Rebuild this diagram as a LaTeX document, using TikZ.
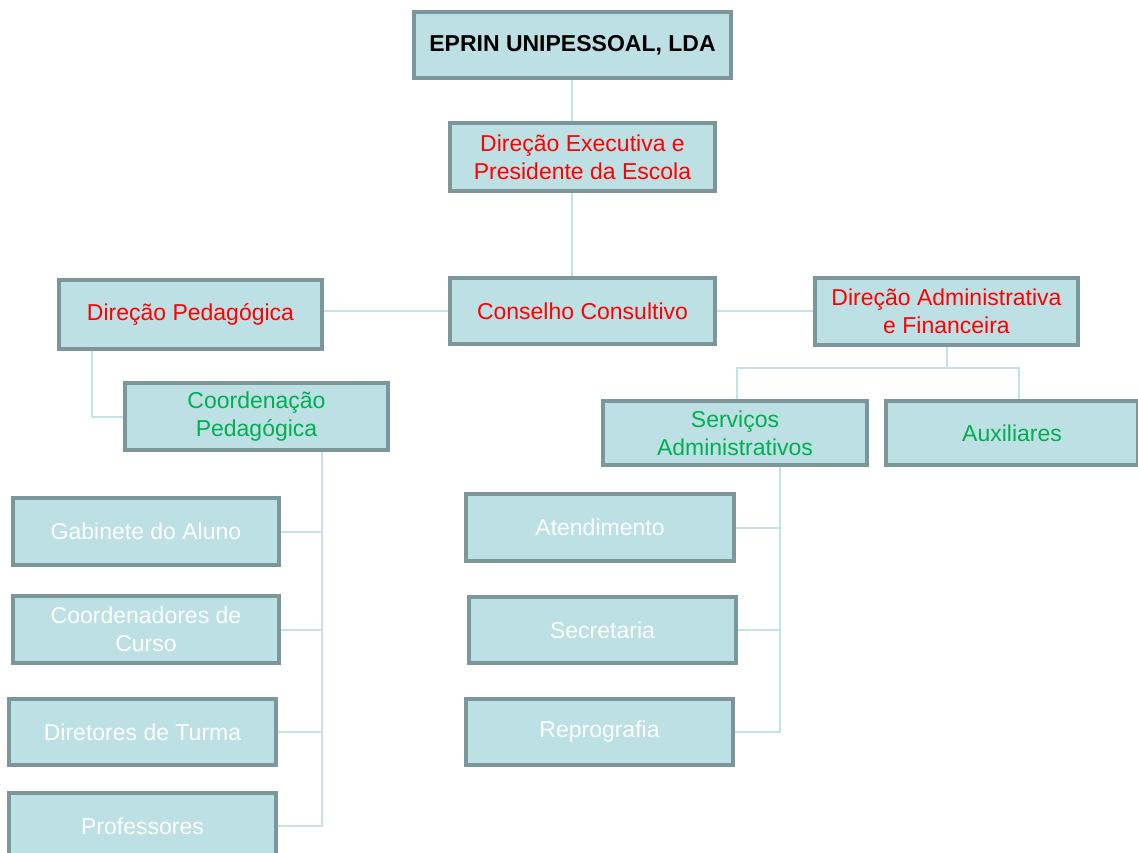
\documentclass[tikz,border=0pt]{standalone}
\usepackage{fontspec}
\setmainfont{Liberation Sans}
\definecolor{boxfill}{HTML}{BCE0E3}
\definecolor{boxline}{HTML}{7C9799}
\definecolor{conn}{HTML}{C3E3E7}
\definecolor{redtxt}{HTML}{FF0000}
\definecolor{greentxt}{HTML}{00B050}
\tikzset{
  orgbox/.style={draw=boxline, line width=3.2pt, fill=boxfill, rectangle, inner sep=0pt,
    align=center, font=\fontsize{23}{28}\selectfont},
  redbox/.style={orgbox, text=redtxt},
  greenbox/.style={orgbox, text=greentxt},
  whitebox/.style={orgbox, text=white},
  link/.style={draw=conn, line width=2pt}
}
\begin{document}
\begin{tikzpicture}[x=1pt,y=-1pt]
\useasboundingbox (0,0) rectangle (1138,852);
\clip (0,0) rectangle (1138,852);
\fill[white] (0,0) rectangle (1138,852);
% nodes
\node[orgbox, text=black, font=\fontsize{23}{28}\selectfont\bfseries, minimum width=317pt, minimum height=66pt] (top) at (572.5,45) {EPRIN UNIPESSOAL, LDA};
\node[redbox, minimum width=265pt, minimum height=68pt] (dexe) at (582.5,157) {Direção Executiva e\\Presidente da Escola};
\node[redbox, minimum width=265pt, minimum height=66pt] (cons) at (582.5,311) {Conselho Consultivo};
\node[redbox, minimum width=263pt, minimum height=69pt] (dped) at (190.5,314.5) {Direção Pedagógica};
\node[redbox, minimum width=263pt, minimum height=67pt] (dadm) at (946.5,311.5) {Direção Administrativa\\e Financeira};
\node[greenbox, minimum width=263pt, minimum height=67pt] (cped) at (256.5,416.5) {Coordenação\\Pedagógica};
\node[greenbox, minimum width=264pt, minimum height=64pt] (serv) at (735,433) {Serviços\\Administrativos};
\node[greenbox, minimum width=252pt, minimum height=64pt] (aux) at (1012,433) {Auxiliares};
\node[whitebox, minimum width=266pt, minimum height=67pt] (gab) at (146,531.5) {Gabinete do Aluno};
\node[whitebox, minimum width=266pt, minimum height=67pt] (coo) at (146,629.5) {Coordenadores de\\Curso};
\node[whitebox, minimum width=267pt, minimum height=66pt] (dtur) at (142.5,732) {Diretores de Turma};
\node[whitebox, minimum width=267pt, minimum height=66pt] (prof) at (142.5,826) {Professores};
\node[whitebox, minimum width=268pt, minimum height=67pt] (ate) at (600,527.5) {Atendimento};
\node[whitebox, minimum width=267pt, minimum height=66pt] (sec) at (602.5,630) {Secretaria};
\node[whitebox, minimum width=267pt, minimum height=66pt] (rep) at (599.5,732) {Reprografia};
% connectors
\coordinate (spine) at (572,0);
\coordinate (trunkL) at (322,0);
\coordinate (trunkR) at (780,0);
\coordinate (bus) at (946.5,368);
\draw[link] (spine |- top.south) -- (spine |- dexe.north);
\draw[link] (spine |- dexe.south) -- (spine |- cons.north);
\draw[link] (cons.west) -- (cons.west -| dped.east);
\draw[link] (cons.east) -- (cons.east -| dadm.west);
\draw[link] ([xshift=35pt]dped.south west) |- (cped.west);
\draw[link] (trunkL |- cped.south) |- (prof.east);
\draw[link] (gab.east) -- (gab.east -| trunkL);
\draw[link] (coo.east) -- (coo.east -| trunkL);
\draw[link] (dtur.east) -- (dtur.east -| trunkL);
\draw[link] (dadm.south) -- (bus);
\draw[link] ([xshift=2pt]serv.north) |- (bus) -| ([xshift=7pt]aux.north);
\draw[link] (trunkR |- serv.south) |- (rep.east);
\draw[link] (ate.east) -- (ate.east -| trunkR);
\draw[link] (sec.east) -- (sec.east -| trunkR);
\end{tikzpicture}
\end{document}
